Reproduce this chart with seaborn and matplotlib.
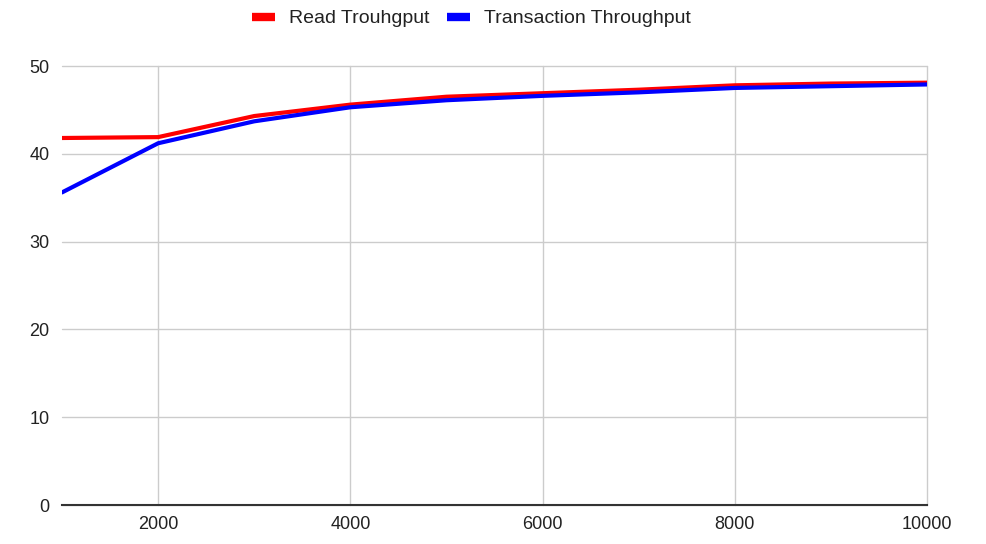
import numpy as np
import pandas as pd
import matplotlib
matplotlib.use("Agg")
import matplotlib.pyplot as plt
from matplotlib.lines import Line2D
import seaborn as sns

# Throughput measurements by request count
requests = [1000, 2000, 3000, 4000, 5000, 6000, 7000, 8000, 9000, 10000]
read_throughput = [41.8, 41.9, 44.3, 45.6, 46.5, 46.9, 47.3, 47.8, 48.0, 48.1]
transaction_throughput = [35.6, 41.2, 43.7, 45.3, 46.1, 46.6, 47.0, 47.5, 47.7, 47.9]

series_names = ["Read Trouhgput", "Transaction Throughput"]
series_colors = ["#ff0000", "#0000ff"]

df = pd.DataFrame({
    "requests": requests * 2,
    "value": read_throughput + transaction_throughput,
    "series": [series_names[0]] * len(requests) + [series_names[1]] * len(requests),
})

sns.set_theme(style="white")
plt.rcParams["font.family"] = ["Liberation Sans", "DejaVu Sans"]

fig = plt.figure(figsize=(9.87, 5.44), dpi=100)
ax = fig.add_axes([62 / 987, 1 - 505 / 544, (927 - 62) / 987, (505 - 66) / 544])

sns.lineplot(data=df, x="requests", y="value", hue="series",
             palette=dict(zip(series_names, series_colors)),
             linewidth=3, ax=ax, legend=False, zorder=3)

ax.set_xlim(1000, 10000)
ax.set_ylim(0, 50)
ax.set_xticks([2000, 4000, 6000, 8000, 10000])
ax.set_yticks([0, 10, 20, 30, 40, 50])
ax.set_xlabel("")
ax.set_ylabel("")

ax.grid(True, color="#cccccc", linewidth=1)
for gl in ax.get_xgridlines() + ax.get_ygridlines():
    gl.set_clip_on(False)
for side in ["top", "right", "left"]:
    ax.spines[side].set_visible(False)
ax.spines["bottom"].set_color("#333333")
ax.spines["bottom"].set_linewidth(1.5)
ax.spines["bottom"].set_zorder(4)
ax.tick_params(axis="both", length=0, labelsize=13, colors="#222222")
ax.tick_params(axis="x", pad=8)
ax.tick_params(axis="y", pad=9)

handles = [Line2D([0], [0], color=c, linewidth=6, solid_capstyle="butt")
           for c in series_colors]
fig.legend(handles, series_names, loc="upper center", bbox_to_anchor=(0.478, 1.014),
           ncol=2, frameon=False, fontsize=14, handlelength=1.15,
           columnspacing=0.9, handletextpad=0.75, labelcolor="#222222")

fig.savefig("out.png", dpi=100)
